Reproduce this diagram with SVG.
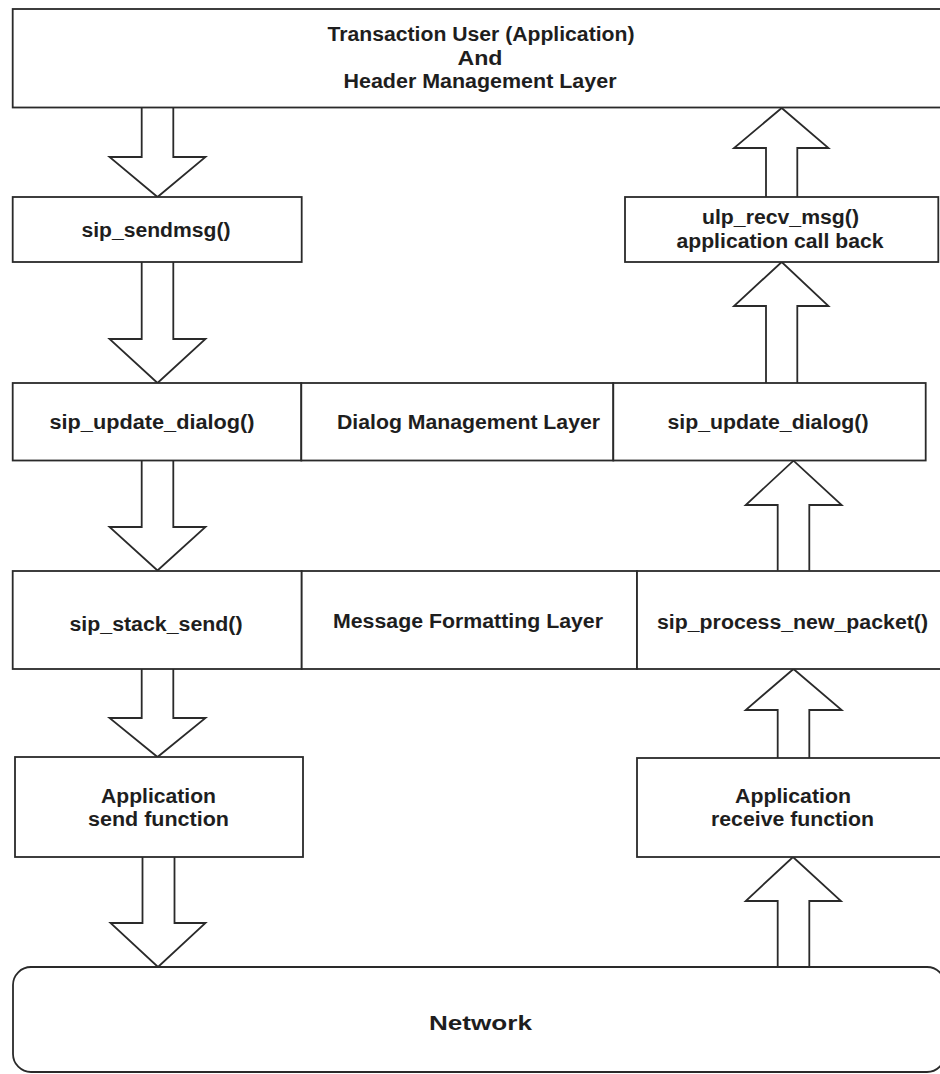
<svg xmlns="http://www.w3.org/2000/svg" width="940" height="1074" viewBox="0 0 940 1074">
<style>
.box{fill:#fff;stroke:#2a2a2a;stroke-width:1.8}
.arr{fill:#fff;stroke:#2a2a2a;stroke-width:1.8;stroke-linejoin:miter}
.t{font-family:"Liberation Sans",Arial,sans-serif;font-weight:bold;font-size:20px;fill:#1e1e1e;text-anchor:middle}
</style>
<rect width="940" height="1074" fill="#fff"/>
<g id="connectors">
  <path class="arr" d="M141.7 107.5 V157 H109.5 L157.5 197 L205.5 157 H173.3 V107.5"/>
  <path class="arr" d="M141.7 262 V339 H109.5 L157.5 383 L205.5 339 H173.3 V262"/>
  <path class="arr" d="M141.7 460.5 V527 H109.5 L157.5 570.5 L205.5 527 H173.3 V460.5"/>
  <path class="arr" d="M141.7 669 V718 H109.5 L157.5 757 L205.5 718 H173.3 V669"/>
  <path class="arr" d="M142.5 857 V923 H110.5 L158 967 L205.5 923 H174.5 V857"/>
  <path class="arr" d="M766 197 V148 H734 L781.7 108 L828.5 148 H797.3 V197"/>
  <path class="arr" d="M766 383 V306 H734 L781.7 262 L828.5 306 H797.3 V383"/>
  <path class="arr" d="M777.7 570.5 V505 H745.7 L793.5 460.7 L841.7 505 H809.3 V570.5"/>
  <path class="arr" d="M777.7 758 V710 H745.7 L793.5 669 L841.7 710 H809.3 V758"/>
  <path class="arr" d="M777.7 967 V901 H745.7 L793 857 L841 901 H809.3 V967"/>
</g>
<g id="top-layer">
  <rect class="box" x="12.7" y="9" width="950" height="98.5"/>
  <text class="t" x="481" y="41" textLength="307" lengthAdjust="spacingAndGlyphs">Transaction User (Application)</text>
  <text class="t" x="480" y="64.5" textLength="45" lengthAdjust="spacingAndGlyphs">And</text>
  <text class="t" x="480" y="87.5" textLength="273" lengthAdjust="spacingAndGlyphs">Header Management Layer</text>
</g>
<g id="sip-sendmsg">
  <rect class="box" x="12.7" y="197" width="289" height="65"/>
  <text class="t" x="156" y="237" textLength="149" lengthAdjust="spacingAndGlyphs">sip_sendmsg()</text>
</g>
<g id="ulp-recv-msg">
  <rect class="box" x="625" y="197" width="313.3" height="65"/>
  <text class="t" x="780.5" y="223.5" textLength="157" lengthAdjust="spacingAndGlyphs">ulp_recv_msg()</text>
  <text class="t" x="780" y="247.5" textLength="207" lengthAdjust="spacingAndGlyphs">application call back</text>
</g>
<g id="sip-update-dialog-send">
  <rect class="box" x="12.7" y="383" width="288.6" height="77.5"/>
  <text class="t" x="152" y="429" textLength="205" lengthAdjust="spacingAndGlyphs">sip_update_dialog()</text>
</g>
<g id="dialog-management-layer">
  <rect class="box" x="301.3" y="383" width="312" height="77.5"/>
  <text class="t" x="468.5" y="429" textLength="263" lengthAdjust="spacingAndGlyphs">Dialog Management Layer</text>
</g>
<g id="sip-update-dialog-recv">
  <rect class="box" x="613.3" y="383" width="312.4" height="77.5"/>
  <text class="t" x="768" y="429" textLength="201" lengthAdjust="spacingAndGlyphs">sip_update_dialog()</text>
</g>
<g id="sip-stack-send">
  <rect class="box" x="12.7" y="571" width="289" height="98"/>
  <text class="t" x="156" y="630.5" textLength="173" lengthAdjust="spacingAndGlyphs">sip_stack_send()</text>
</g>
<g id="message-formatting-layer">
  <rect class="box" x="301.7" y="571" width="335.3" height="98"/>
  <text class="t" x="468" y="627.5" textLength="270" lengthAdjust="spacingAndGlyphs">Message Formatting Layer</text>
</g>
<g id="sip-process-new-packet">
  <rect class="box" x="637" y="571" width="320" height="98"/>
  <text class="t" x="792.5" y="629" textLength="271" lengthAdjust="spacingAndGlyphs">sip_process_new_packet()</text>
</g>
<g id="app-send">
  <rect class="box" x="15" y="757" width="288" height="100"/>
  <text class="t" x="158.5" y="802.5" textLength="115" lengthAdjust="spacingAndGlyphs">Application</text>
  <text class="t" x="158.5" y="825.5" textLength="141" lengthAdjust="spacingAndGlyphs">send function</text>
</g>
<g id="app-receive">
  <rect class="box" x="637" y="758" width="320" height="99"/>
  <text class="t" x="793" y="802.5" textLength="116" lengthAdjust="spacingAndGlyphs">Application</text>
  <text class="t" x="792.5" y="825.5" textLength="163" lengthAdjust="spacingAndGlyphs">receive function</text>
</g>
<g id="network">
  <rect class="box" x="13" y="967" width="932" height="105" rx="18" ry="18"/>
  <text class="t" x="480.5" y="1029.5" textLength="103" lengthAdjust="spacingAndGlyphs" style="font-size:21px">Network</text>
</g>
</svg>
